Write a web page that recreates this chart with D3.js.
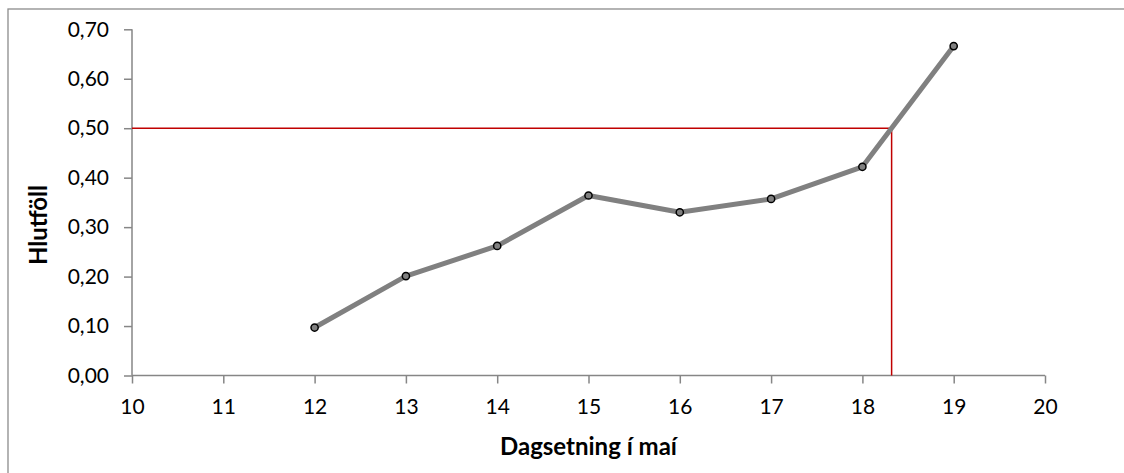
<!DOCTYPE html>
<html>
<head>
<meta charset="utf-8">
<script src="https://cdn.jsdelivr.net/npm/d3@7"></script>
<style>
  html, body { margin: 0; padding: 0; background: #fff; }
  svg { display: block; }
  text { font-family: Lato, "Open Sans", sans-serif; fill: #000; }
</style>
</head>
<body>
<svg id="chart" width="1124" height="473"></svg>
<script>
// Day of May and measured proportion
const days = [12, 13, 14, 15, 16, 17, 18, 19];
const ratios = [0.097, 0.201, 0.262, 0.364, 0.330, 0.357, 0.422, 0.666];

// Axis ticks
const xTicks = [10, 11, 12, 13, 14, 15, 16, 17, 18, 19, 20];
const yTicks = [0, 0.1, 0.2, 0.3, 0.4, 0.5, 0.6, 0.7];

// Reference level and the day where the series crosses it
const refLevel = 0.5;
const refDay = 18.32;

const xLabel = "Dagsetning í maí";
const yLabel = "Hlutföll";

const svg = d3.select("#chart");
const W = 1124, H = 473;
const plot = { left: 132, right: 1045, top: 29.3, bottom: 375.5 };

// Outer chart frame
svg.append("rect")
  .attr("x", 8).attr("y", 9)
  .attr("width", W + 20).attr("height", H + 20)
  .attr("fill", "none")
  .attr("stroke", "#8c8c8c")
  .attr("stroke-width", 1.3);

const x = d3.scaleLinear().domain([10, 20]).range([plot.left, plot.right]);
const y = d3.scaleLinear().domain([0, 0.7]).range([plot.bottom, plot.top]);

const fmt = v => d3.format(".2f")(v).replace(".", ",");

// Y axis
const yAxis = svg.append("g")
  .attr("transform", `translate(${plot.left},0)`)
  .call(d3.axisLeft(y).tickValues(yTicks).tickFormat(fmt).tickSize(8).tickPadding(15));
yAxis.selectAll("path, line").attr("stroke", "#868686").attr("stroke-width", 1.5);
yAxis.select(".domain").attr("d", `M0,${plot.top}V${plot.bottom}`);
yAxis.selectAll("text").style("font-size", "21px").attr("fill", "#000");

// X axis
const xAxis = svg.append("g")
  .attr("transform", `translate(0,${plot.bottom})`)
  .call(d3.axisBottom(x).tickValues(xTicks).tickFormat(d3.format("d")).tickSize(8).tickPadding(16));
xAxis.selectAll("path, line").attr("stroke", "#868686").attr("stroke-width", 1.5);
xAxis.select(".domain").attr("d", `M${plot.left},0H${plot.right}`);
xAxis.selectAll("text").style("font-size", "21px").attr("fill", "#000");

// Axis titles
svg.append("text")
  .attr("x", (plot.left + plot.right) / 2)
  .attr("y", 455)
  .attr("text-anchor", "middle")
  .style("font-size", "24px")
  .style("font-weight", "bold")
  .text(xLabel);

svg.append("text")
  .attr("transform", `translate(47,225) rotate(-90)`)
  .attr("text-anchor", "middle")
  .style("font-size", "24px")
  .style("font-weight", "bold")
  .text(yLabel);

// Reference lines at the 0.5 level
svg.append("path")
  .attr("d", `M${x(10)},${y(refLevel)}H${x(refDay)}V${y(0)}`)
  .attr("fill", "none")
  .attr("stroke", "#c00000")
  .attr("stroke-width", 1.5);

// Data series
const pts = days.map((d, i) => [d, ratios[i]]);
svg.append("path")
  .datum(pts)
  .attr("d", d3.line().x(d => x(d[0])).y(d => y(d[1])))
  .attr("fill", "none")
  .attr("stroke", "#808080")
  .attr("stroke-width", 5)
  .attr("stroke-linejoin", "round");

svg.append("g").selectAll("circle")
  .data(pts)
  .join("circle")
  .attr("cx", d => x(d[0]))
  .attr("cy", d => y(d[1]))
  .attr("r", 3.6)
  .attr("fill", "#808080")
  .attr("stroke", "#000")
  .attr("stroke-width", 1.5);
</script>
</body>
</html>
